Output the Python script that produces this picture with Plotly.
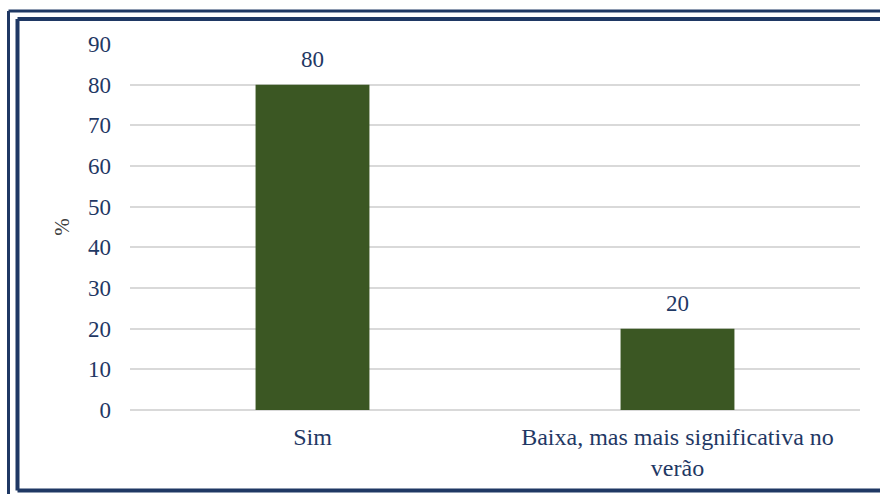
import plotly.graph_objects as go

categories = ["Sim", "Baixa, mas mais significativa no<br>verão"]
values = [80, 20]
y_ticks = [0, 10, 20, 30, 40, 50, 60, 70, 80, 90]

W, H = 880, 494
L, R, T, B = 130, 20, 44, 84
pw, ph = W - L - R, H - T - B

def px(x):
    return (x - L) / pw

def py(y):
    return (H - B - y) / ph

navy = "#1F3864"
bar_color = "#3B5723"
font_family = "Liberation Serif, Times New Roman, Times, serif"

fig = go.Figure()
fig.add_trace(go.Bar(
    x=categories, y=values,
    marker=dict(color=bar_color, line=dict(width=0)),
    width=0.312,
    hoverinfo="skip",
))

for c, v in zip(categories, values):
    fig.add_annotation(x=c, y=v, text=str(v), showarrow=False,
                       yanchor="middle", yshift=25,
                       font=dict(family=font_family, size=23, color=navy))

# double border frame drawn as separate edge lines (right edge lies outside the view)
def edges(xl, yt, yb, xr, width):
    for x0, y0, x1, y1 in [(xl, yt, xr, yt), (xl, yt, xl, yb), (xl, yb, xr, yb)]:
        fig.add_shape(type="line", xref="paper", yref="paper",
                      x0=px(x0), y0=py(y0), x1=px(x1), y1=py(y1),
                      line=dict(color=navy, width=width), layer="above")

edges(8.5, 11, 520, 880, 3)
edges(17.5, 19, 490.5, 880, 4)

fig.update_layout(
    width=W, height=H,
    margin=dict(l=L, r=R, t=T, b=B, pad=0),
    paper_bgcolor="white", plot_bgcolor="white",
    showlegend=False,
    font=dict(family=font_family, color=navy),
    xaxis=dict(
        tickfont=dict(family=font_family, size=24, color=navy),
        showgrid=False, showline=False, ticks="",
        ticklabelstandoff=10,
    ),
    yaxis=dict(
        range=[0, 90], tickvals=y_ticks,
        tickfont=dict(family=font_family, size=23, color=navy),
        showgrid=True, gridcolor="#D9D9D9", gridwidth=1.5,
        zeroline=True, zerolinecolor="#D9D9D9", zerolinewidth=1.5,
        showline=False, ticks="",
        ticklabelstandoff=18,
        title=dict(text="%", font=dict(family=font_family, size=21, color="#404040"), standoff=12),
    ),
)

fig.write_html("out.html", config={"displayModeBar": False},
               post_script="document.body.style.margin='0';document.body.style.overflow='hidden';document.documentElement.style.overflow='hidden';")
